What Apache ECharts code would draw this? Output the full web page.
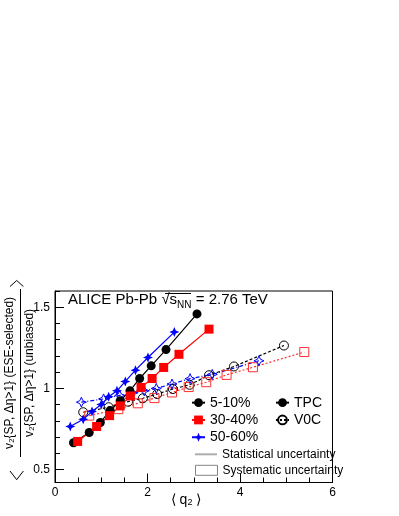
<!doctype html>
<html>
<head>
<meta charset="utf-8">
<title>ESE v2 ratio vs q2</title>
<script src="https://cdn.jsdelivr.net/npm/echarts@6/dist/echarts.min.js"></script>
<style>html,body{margin:0;background:#fff}#chart{width:399px;height:516px}</style>
</head>
<body>
<div id="chart"></div>
<script>
// 数据：<q2> 与 v2 比值（读自参考图）
const q_5_10_tpc = [0.40, 0.74, 0.98, 1.19, 1.41, 1.62, 1.83, 2.08, 2.40, 3.07];
const r_5_10_tpc = [0.665, 0.728, 0.790, 0.863, 0.924, 0.985, 1.061, 1.139, 1.239, 1.459];
const q_30_40_tpc = [0.49, 0.90, 1.18, 1.41, 1.63, 1.86, 2.10, 2.35, 2.68, 3.33];
const r_30_40_tpc = [0.673, 0.765, 0.832, 0.892, 0.953, 1.006, 1.061, 1.129, 1.210, 1.365];
const q_50_60_tpc = [0.33, 0.61, 0.80, 1.00, 1.16, 1.34, 1.52, 1.74, 2.01, 2.58];
const r_50_60_tpc = [0.765, 0.810, 0.857, 0.900, 0.949, 0.985, 1.043, 1.112, 1.190, 1.347];

const q_5_10_v0c = [0.61, 1.16, 1.58, 1.90, 2.21, 2.55, 2.91, 3.33, 3.87, 4.95];
const r_5_10_v0c = [0.853, 0.884, 0.918, 0.939, 0.965, 0.996, 1.022, 1.081, 1.135, 1.264];
const q_30_40_v0c = [0.74, 1.37, 1.79, 2.15, 2.53, 2.89, 3.27, 3.71, 4.28, 5.39];
const r_30_40_v0c = [0.832, 0.872, 0.908, 0.940, 0.975, 1.008, 1.038, 1.083, 1.130, 1.224];
const q_50_60_v0c = [0.57, 1.05, 1.40, 1.68, 1.93, 2.19, 2.53, 2.92, 3.40, 4.41];
const r_50_60_v0c = [0.915, 0.935, 0.957, 0.972, 0.985, 1.000, 1.027, 1.060, 1.086, 1.170];

const yMajorTicks = [0.5, 1, 1.5];
const yMinorTicks = [5, 6, 7, 8, 9, 10, 11, 12, 13, 14, 15, 16].map((i) => i / 10);

const FONT = "Liberation Sans, Arial, sans-serif";
const STAR = "path://M0,-10 L3,-3 L10,0 L3,3 L0,10 L-3,3 L-10,0 L-3,-3 Z";

// 把 x、y 数组配对
const pairs = (xs, ys) => xs.map((x, i) => [x, ys[i]]);

// 实心点 + 实线（TPC）
function tpcSeries(name, xs, ys, color, symbol, size) {
  return {
    name: name, type: "line", data: pairs(xs, ys),
    symbol: symbol, symbolSize: size,
    lineStyle: { color: color, width: 1.2 },
    itemStyle: { color: color },
    z: 4
  };
}
// 空心点 + 虚线（V0C）
function v0cSeries(xs, ys, color, symbol, size, dash) {
  return {
    type: "line", data: pairs(xs, ys),
    symbol: symbol, symbolSize: size,
    lineStyle: { color: color, width: 1.2, type: dash },
    itemStyle: { color: "rgba(0,0,0,0)", borderColor: color, borderWidth: 1 },
    z: 3
  };
}

const chart = echarts.init(document.getElementById("chart"), null, { renderer: "canvas" });

const legendText = (size, lh) => ({ fontSize: size, color: "#000", lineHeight: lh, fontFamily: FONT });

const option = {
  animation: false,
  textStyle: { fontFamily: FONT },
  grid: { left: 55, right: 66.5, top: 291, bottom: 33.5, show: true, borderColor: "#000", borderWidth: 1, backgroundColor: "transparent" },
  xAxis: {
    type: "value", min: 0, max: 6, interval: 2,
    axisLine: { lineStyle: { color: "#000", width: 1 } },
    axisTick: { inside: true, length: 9, lineStyle: { color: "#000" } },
    minorTick: { show: true, splitNumber: 4, length: 5, lineStyle: { color: "#000" } },
    axisLabel: { color: "#000", fontSize: 12, margin: 4, fontFamily: FONT },
    splitLine: { show: false }
  },
  yAxis: [
    {
      type: "value", min: 0.42, max: 1.6,
      axisLine: { show: true, lineStyle: { color: "#000", width: 1 } },
      axisTick: { show: true, inside: true, length: 9, customValues: yMajorTicks, lineStyle: { color: "#000" } },
      axisLabel: { color: "#000", fontSize: 12, margin: 5, customValues: yMajorTicks, fontFamily: FONT },
      splitLine: { show: false }
    },
    {
      type: "value", min: 0.42, max: 1.6, position: "left",
      axisLine: { show: false },
      axisTick: { show: true, inside: true, length: 5, customValues: yMinorTicks, lineStyle: { color: "#000" } },
      axisLabel: { show: false },
      splitLine: { show: false }
    }
  ],
  legend: [
    {
      left: 186, top: 389, orient: "vertical", itemWidth: 13, itemHeight: 11, itemGap: 0,
      data: ["5-10%", "30-40%", "50-60%"],
      textStyle: legendText(14, 17.3), selectedMode: false
    },
    {
      left: 270, top: 389, orient: "vertical", itemWidth: 13, itemHeight: 11, itemGap: 0,
      data: ["TPC", "V0C"],
      textStyle: legendText(14, 17.3), selectedMode: false
    },
    {
      left: 190, top: 441.3, orient: "vertical", itemWidth: 22, itemHeight: 2, itemGap: 0,
      data: [{ name: "Statistical uncertainty", icon: "rect", itemStyle: { color: "#999" } }],
      textStyle: legendText(12, 16), selectedMode: false
    },
    {
      left: 190, top: 457.3, orient: "vertical", itemWidth: 22, itemHeight: 10, itemGap: 0,
      data: [{ name: "Systematic uncertainty", icon: "rect", itemStyle: { color: "rgba(0,0,0,0)", borderColor: "#666", borderWidth: 1 } }],
      textStyle: legendText(12, 16), selectedMode: false
    }
  ],
  series: [
    v0cSeries(q_5_10_v0c, r_5_10_v0c, "#000", "circle", 9, [3, 2]),
    v0cSeries(q_30_40_v0c, r_30_40_v0c, "#ff3030", "rect", 9, [2, 2]),
    v0cSeries(q_50_60_v0c, r_50_60_v0c, "#0000ff", STAR, 10, [4, 2, 1, 2]),
    tpcSeries("5-10%", q_5_10_tpc, r_5_10_tpc, "#000", "circle", 9),
    tpcSeries("30-40%", q_30_40_tpc, r_30_40_tpc, "#ff0000", "rect", 9),
    tpcSeries("50-60%", q_50_60_tpc, r_50_60_tpc, "#0000ff", STAR, 10),
    // 图例占位
    { name: "TPC", type: "line", data: [], symbol: "circle", symbolSize: 9, lineStyle: { color: "#000", width: 1.2 }, itemStyle: { color: "#000" } },
    { name: "V0C", type: "line", data: [], symbol: "circle", symbolSize: 9, lineStyle: { color: "#000", width: 1, type: [2, 2] }, itemStyle: { color: "rgba(0,0,0,0)", borderColor: "#000", borderWidth: 1 } },
    { name: "Statistical uncertainty", type: "scatter", data: [], itemStyle: { color: "#999" } },
    { name: "Systematic uncertainty", type: "scatter", data: [], itemStyle: { color: "rgba(0,0,0,0)", borderColor: "#666", borderWidth: 1 } }
  ],
  graphic: [
    // 标题
    {
      type: "text", left: 68, top: 290, z: 10,
      style: {
        text: "ALICE Pb-Pb √{s|s}{sub|NN} = 2.76 TeV",
        fontSize: 15, fill: "#000", fontFamily: FONT, lineHeight: 20,
        rich: {
          s: { fontSize: 15, fontFamily: FONT, lineHeight: 20 },
          sub: { fontSize: 10, fontFamily: FONT, lineHeight: 12, verticalAlign: "bottom" }
        }
      }
    },
    // 根号上横线
    { type: "line", z: 10, shape: { x1: 165, y1: 293.5, x2: 191, y2: 293.5 }, style: { stroke: "#000", lineWidth: 1 } },
    // x 轴标题
    {
      type: "text", x: 186, y: 500, z: 10,
      style: { text: "⟨ q{sub|2} ⟩", fontSize: 14, fill: "#000", align: "center", verticalAlign: "middle", fontFamily: FONT,
        rich: { sub: { fontSize: 9, verticalAlign: "bottom", lineHeight: 10, fontFamily: FONT } } }
    },
    // y 轴标题（分式，旋转）
    {
      type: "group", x: 20.5, y: 373, rotation: Math.PI / 2, z: 10,
      children: [
        { type: "text", x: 0, y: -11, style: { text: "v₂{SP, Δη>1} (ESE-selected)", fontSize: 12, fill: "#000", align: "center", verticalAlign: "middle", fontFamily: FONT } },
        { type: "line", shape: { x1: -84, y1: 0, x2: 84, y2: 0 }, style: { stroke: "#000", lineWidth: 1 } },
        { type: "text", x: 0, y: 9, style: { text: "v₂{SP, Δη>1} (unbiased)", fontSize: 12, fill: "#000", align: "center", verticalAlign: "middle", fontFamily: FONT } }
      ]
    },
    { type: "polyline", z: 10, shape: { points: [[10, 286.5], [16.7, 280.5], [23.4, 286.5]] }, style: { stroke: "#000", fill: null, lineWidth: 1 } },
    { type: "polyline", z: 10, shape: { points: [[10, 471], [16.7, 479.7], [23.4, 471]] }, style: { stroke: "#000", fill: null, lineWidth: 1 } }
  ]
};

chart.setOption(option);
</script>
</body>
</html>
